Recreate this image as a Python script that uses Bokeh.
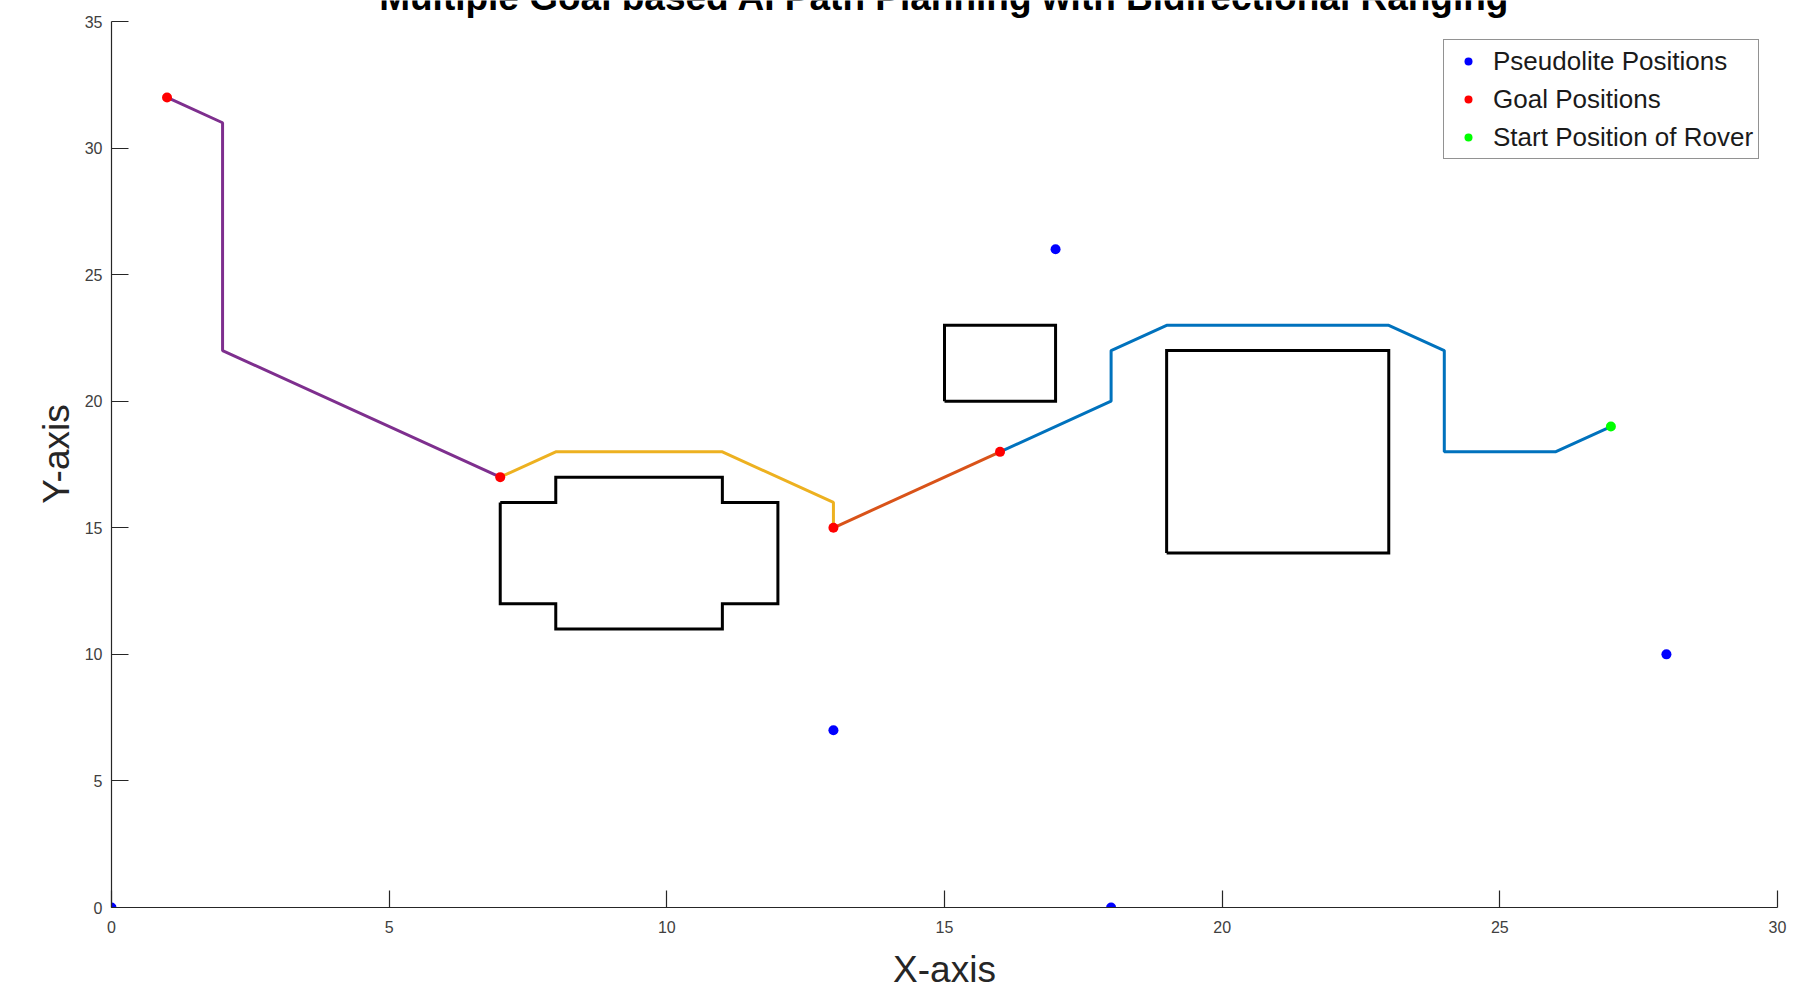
from bokeh.plotting import figure
from bokeh.models import Range1d, FixedTicker, Label, Legend, LegendItem
from bokeh.embed import file_html
from bokeh.resources import INLINE

# ---------------- data ----------------
title_text = "Multiple Goal based AI Path Planning with Bidirectional Ranging"
x_label = "X-axis"
y_label = "Y-axis"

x_ticks = [0, 5, 10, 15, 20, 25, 30]
y_ticks = [0, 5, 10, 15, 20, 25, 30, 35]

pseudo_x = [0, 13, 17, 18, 28]
pseudo_y = [0, 7, 26, 0, 10]
goal_x = [1, 7, 13, 16]
goal_y = [32, 17, 15, 18]
start_x = [27]
start_y = [19]

path1_x = [27, 26, 24, 24, 23, 19, 18, 18, 16]
path1_y = [19, 18, 18, 22, 23, 23, 22, 20, 18]
path2_x = [16, 13]
path2_y = [18, 15]
path3_x = [13, 13, 11, 8, 7]
path3_y = [15, 16, 18, 18, 17]
path4_x = [7, 2, 2, 1]
path4_y = [17, 22, 31, 32]

obst1_x = [15, 17, 17, 15, 15]
obst1_y = [20, 20, 23, 23, 20]
obst2_x = [19, 23, 23, 19, 19]
obst2_y = [14, 14, 22, 22, 14]
obst3_x = [7, 8, 8, 11, 11, 12, 12, 11, 11, 8, 8, 7, 7]
obst3_y = [16, 16, 17, 17, 16, 16, 12, 12, 11, 11, 12, 12, 16]

legend_labels = ["Pseudolite Positions", "Goal Positions", "Start Position of Rover"]

# ---------------- layout (pixels) ----------------
FONT = "Liberation Sans"
AX = "#262626"
W, H = 1805, 992
LEFT, RIGHT, BOTTOM = 111, 28, 85
AXES_TOP = 21                       # page y of the y=35 tick
FRAME_H = H - BOTTOM                # frame reaches the top of the canvas
Y_MAX = 35
Y_END = Y_MAX * FRAME_H / (FRAME_H - AXES_TOP)

p = figure(width=W, height=H, output_backend="svg", toolbar_location=None,
           x_range=Range1d(0, 30), y_range=Range1d(0, Y_END),
           min_border_left=LEFT, min_border_right=RIGHT, min_border_top=0,
           min_border_bottom=BOTTOM)
p.outline_line_color = None
p.background_fill_color = "white"
p.border_fill_color = "white"
p.xgrid.grid_line_color = None
p.ygrid.grid_line_color = None

for ax in (p.xaxis[0], p.yaxis[0]):
    ax.axis_line_color = AX
    ax.axis_line_width = 1.2
    ax.major_tick_line_color = AX
    ax.major_tick_line_width = 1.2
    ax.major_tick_in = 17
    ax.major_tick_out = 0
    ax.minor_tick_line_color = None
    ax.major_label_text_font = FONT
    ax.major_label_text_font_size = "16px"
    ax.major_label_text_color = "#404040"
    ax.axis_label_text_font = FONT
    ax.axis_label_text_font_size = "37px"
    ax.axis_label_text_font_style = "normal"
    ax.axis_label_text_color = AX

p.xaxis.ticker = FixedTicker(ticks=x_ticks)
p.yaxis.ticker = FixedTicker(ticks=y_ticks)
p.yaxis.bounds = (0, Y_MAX)
p.xaxis.major_label_standoff = 13
p.yaxis.major_label_standoff = 9

p.yaxis.axis_label = y_label
p.yaxis.axis_label_standoff = 5
p.xaxis.axis_label = x_label
p.xaxis.axis_label_standoff = 13

# obstacles
for ox, oy in ((obst1_x, obst1_y), (obst2_x, obst2_y), (obst3_x, obst3_y)):
    p.line(ox, oy, line_color="black", line_width=3, line_join="miter")

# paths
p.line(path1_x, path1_y, line_color="#0072BD", line_width=3)
p.line(path2_x, path2_y, line_color="#D95319", line_width=3)
p.line(path3_x, path3_y, line_color="#EDB120", line_width=3)
p.line(path4_x, path4_y, line_color="#7E2F8E", line_width=3)

# points
r_pseudo = p.scatter(pseudo_x, pseudo_y, size=10, fill_color="#0000FF", line_color=None)
r_goal = p.scatter(goal_x, goal_y, size=10, fill_color="#FF0000", line_color=None)
r_start = p.scatter(start_x, start_y, size=10, fill_color="#00FF00", line_color=None)

legend = Legend(items=[LegendItem(label=legend_labels[0], renderers=[r_pseudo]),
                       LegendItem(label=legend_labels[1], renderers=[r_goal]),
                       LegendItem(label=legend_labels[2], renderers=[r_start])],
                location=(1443 - LEFT, FRAME_H - 159), margin=0, padding=5, spacing=6,
                glyph_width=38, glyph_height=20, label_height=32, label_standoff=6,
                label_text_font=FONT, label_text_font_size="26px", label_text_color="#1a1a1a",
                border_line_color=AX, border_line_width=1.2,
                background_fill_color="white", background_fill_alpha=1.0)
p.add_layout(legend, "center")

# title (partly cut off at the top edge, as in the reference)
p.add_layout(Label(x=944 - LEFT, y=FRAME_H + 3, x_units="screen", y_units="screen",
                   text=title_text, text_font=FONT, text_font_size="37px",
                   text_font_style="bold", text_align="center",
                   text_baseline="alphabetic", text_color="black"))

open("out.html", "w").write(file_html(p, INLINE))
